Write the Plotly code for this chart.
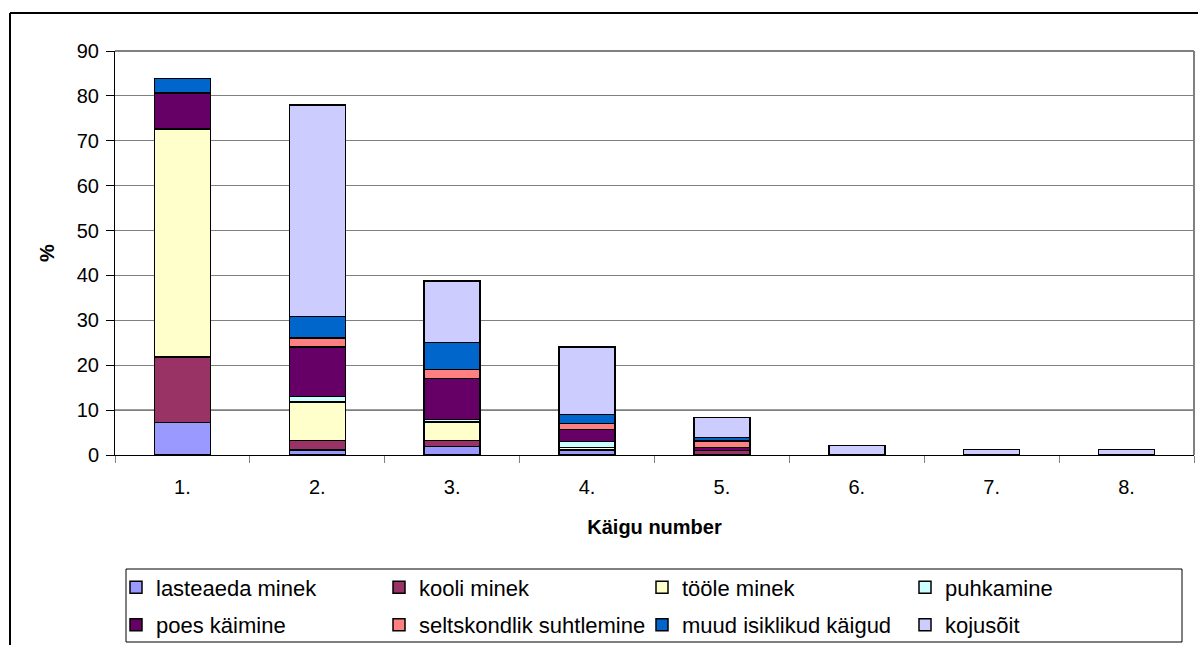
import plotly.graph_objects as go

# trip number categories
kaigud = ["1.", "2.", "3.", "4.", "5.", "6.", "7.", "8."]

# share of trips (%) by purpose (None = no segment)
lasteaeda_minek = [7.2, 1.1, 1.9, 1.0, None, None, None, None]
kooli_minek = [14.6, 2.1, 1.3, 0.2, 1.0, None, None, None]
toole_minek = [50.8, 8.6, 4.1, 0.5, None, None, None, None]
puhkamine = [None, 1.2, 0.6, 1.3, None, None, None, None]
poes_kaimine = [8.0, 11.1, 9.1, 2.7, 0.7, None, None, None]
seltskondlik = [None, 2.0, 2.0, 1.3, 1.4, None, None, None]
muud_kaigud = [3.3, 4.8, 6.1, 2.0, 0.8, None, None, None]
kojusoit = [None, 47.1, 13.7, 15.1, 4.4, 2.1, 1.2, 1.2]

y_ticks = [0, 10, 20, 30, 40, 50, 60, 70, 80, 90]

# (name, values, colour, legend row)
series = [
    ("lasteaeda minek", lasteaeda_minek, "#9999FF", "legend"),
    ("kooli minek", kooli_minek, "#993366", "legend"),
    ("tööle minek", toole_minek, "#FFFFCC", "legend"),
    ("puhkamine", puhkamine, "#CCFFFF", "legend"),
    ("poes käimine", poes_kaimine, "#660066", "legend2"),
    ("seltskondlik suhtlemine", seltskondlik, "#FF8080", "legend2"),
    ("muud isiklikud käigud", muud_kaigud, "#0066CC", "legend2"),
    ("kojusõit", kojusoit, "#CCCCFF", "legend2"),
]

FONT = "Arial, Liberation Sans, sans-serif"

fig = go.Figure()
for name, vals, colour, leg in series:
    fig.add_trace(go.Bar(
        x=kaigud, y=vals, name=name, legend=leg,
        marker=dict(color=colour, line=dict(color="black", width=1.5)),
    ))

# plot area spans y pixels 51..455 (height 404)
def py(pix):
    return (455 - pix) / 404.0

def px_(pix):
    return (pix - 115) / 1079.0

legend_common = dict(
    orientation="h",
    traceorder="normal",
    xanchor="left", yanchor="middle",
    borderwidth=0, bgcolor="rgba(0,0,0,0)",
    entrywidth=218, entrywidthmode="pixels",
    font=dict(size=22),
    itemclick=False, itemdoubleclick=False,
)

fig.update_layout(
    barmode="stack",
    bargap=0.585,
    width=1198, height=645,
    margin=dict(l=115, r=4, t=51, b=190, autoexpand=False),
    plot_bgcolor="white",
    paper_bgcolor="white",
    font=dict(family=FONT, size=20, color="black"),
    legend=dict(legend_common, x=px_(116), y=py(587.5)),
    legend2=dict(legend_common, x=px_(116), y=py(625)),
    showlegend=True,
)

fig.update_xaxes(
    type="category",
    showline=True, linecolor="black", linewidth=1,
    ticks="outside", tickson="boundaries", ticklen=7, tickcolor="#808080",
    ticklabelstandoff=14,
    title=dict(text="<b>Käigu number</b>", standoff=22, font=dict(size=20)),
    showgrid=False,
)
fig.update_yaxes(
    range=[0, 90],
    tickvals=y_ticks,
    showline=True, linecolor="black", linewidth=1,
    ticks="outside", ticklen=8, tickcolor="black",
    ticklabelstandoff=3,
    showgrid=True, gridcolor="#808080", gridwidth=1,
    zeroline=False,
    title=dict(text="<b>%</b>", standoff=16, font=dict(size=20)),
)

# the 10 % gridline is drawn darker in the original
fig.add_hline(y=10, line=dict(color="black", width=1), layer="below")

# gray frame on top and right of the plot area
fig.add_shape(type="line", xref="paper", yref="paper", x0=0, x1=1, y0=1, y1=1,
              line=dict(color="#808080", width=2))
fig.add_shape(type="line", xref="paper", yref="paper", x0=1, x1=1, y0=0, y1=1,
              line=dict(color="#808080", width=2))
# outer chart border (top and left visible)
fig.add_shape(type="line", xref="paper", yref="paper", x0=px_(10), x1=1.1, y0=py(13), y1=py(13),
              line=dict(color="black", width=2))
fig.add_shape(type="line", xref="paper", yref="paper", x0=px_(10), x1=px_(10), y0=-0.6, y1=py(13),
              line=dict(color="black", width=2))
# legend box
fig.add_shape(type="rect", xref="paper", yref="paper",
              x0=px_(126), x1=px_(1182), y0=py(642), y1=py(569),
              line=dict(color="black", width=1))

fig.write_html("out.html", config={"displayModeBar": False},
               post_script="document.body.style.margin='0';")
